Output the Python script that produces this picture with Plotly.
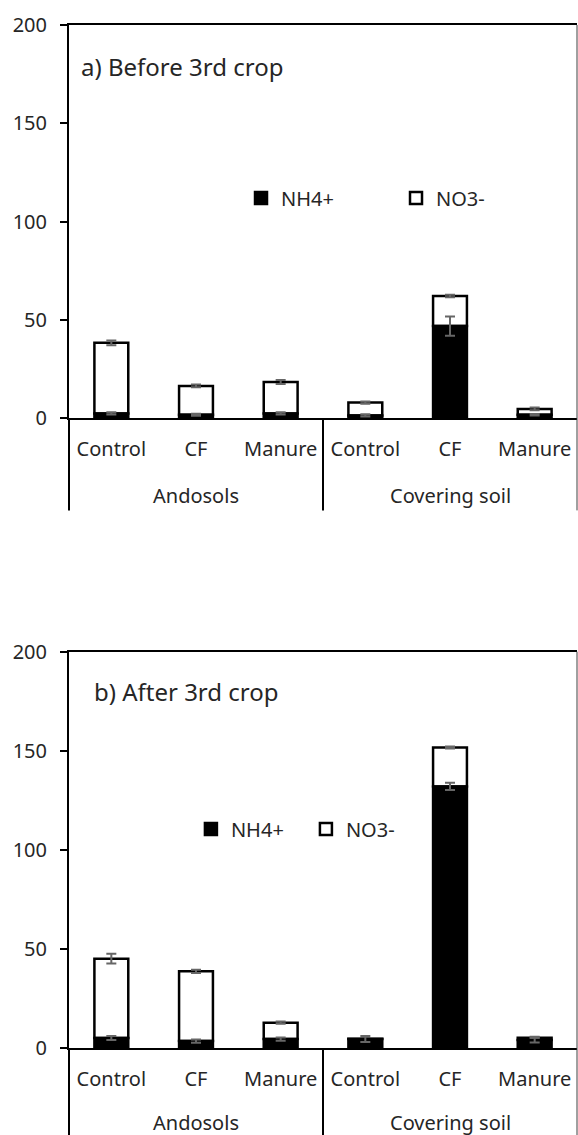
import plotly.graph_objects as go

# ---------------- data ----------------
soils = ["Andosols"] * 3 + ["Covering soil"] * 3
treatments = ["Control", "CF", "Manure"] * 2

nh4_before = [2.5, 1.8, 2.5, 1.5, 46.9, 1.8]
no3_before = [35.9, 14.7, 16.0, 6.5, 15.3, 3.0]
nh4_before_err = [0.6, 0.5, 0.6, 0.6, 4.9, 0.4]
no3_before_err = [1.2, 0.7, 1.0, 0.6, 0.6, 0.7]

nh4_after = [5.0, 3.5, 4.5, 4.5, 132.0, 4.0]
no3_after = [40.1, 35.2, 8.3, 0.2, 19.7, 1.2]
nh4_after_err = [1.0, 0.8, 0.8, 1.5, 1.8, 1.2]
no3_after_err = [2.5, 0.8, 0.6, 0.3, 0.5, 0.5]

panel_titles = ["a) Before 3rd crop", "b) After 3rd crop"]
y_ticks = [0, 50, 100, 150, 200]

FONT = "Noto Sans"
TXT = "#262626"
ERRC = "#666666"

n = len(treatments)
x_pos = list(range(n))

# group structure derived from the soils list
groups = []
for i, s in enumerate(soils):
    if not groups or groups[-1][0] != s:
        groups.append([s, i, i])
    else:
        groups[-1][2] = i

fig = go.Figure()


def add_panel(nh4, no3, nh4_err, no3_err, xa, ya, leg):
    # NO3 sits on top of NH4; NH4 drawn last so its error bar stays visible
    fig.add_trace(go.Bar(
        x=x_pos, y=no3, base=nh4, name="NO3-",
        marker=dict(color="white", line=dict(color="black", width=2.5)),
        error_y=dict(type="data", array=no3_err, visible=True,
                     color=ERRC, thickness=2, width=5),
        xaxis=xa, yaxis=ya, legend=leg,
    ))
    fig.add_trace(go.Bar(
        x=x_pos, y=nh4, name="NH4+",
        marker=dict(color="black", line=dict(color="black", width=2.5)),
        error_y=dict(type="data", array=nh4_err, visible=True,
                     color=ERRC, thickness=2, width=5),
        xaxis=xa, yaxis=ya, legend=leg,
    ))


add_panel(nh4_before, no3_before, nh4_before_err, no3_before_err, "x", "y", "legend")
add_panel(nh4_after, no3_after, nh4_after_err, no3_after_err, "x2", "y2", "legend2")

xaxis_common = dict(
    range=[-0.5, n - 0.5], tickvals=x_pos, ticktext=treatments,
    showline=True, linewidth=2, linecolor="black", mirror=True,
    ticks="", showgrid=False, zeroline=False,
    tickfont=dict(family=FONT, size=20, color=TXT),
    ticklabelstandoff=12,
)
yaxis_common = dict(
    range=[0, 200], tickvals=y_ticks,
    showline=True, linewidth=2, linecolor="black",
    ticks="outside", ticklen=7, tickwidth=2, tickcolor="black",
    showgrid=False, zeroline=False,
    tickfont=dict(family=FONT, size=20, color=TXT),
    ticklabelstandoff=9,
)

legend_common = dict(
    orientation="h", xanchor="left", yanchor="middle",
    font=dict(family=FONT, size=20, color=TXT),
    bgcolor="rgba(0,0,0,0)", traceorder="reversed",
    itemwidth=30,
)

annotations = [
    dict(text=panel_titles[0], xref="paper", yref="paper", x=0.0197, y=0.9599,
         xanchor="left", yanchor="middle", showarrow=False,
         font=dict(family=FONT, size=24, color=TXT)),
    dict(text=panel_titles[1], xref="paper", yref="paper", x=0.0453, y=0.348,
         xanchor="left", yanchor="middle", showarrow=False,
         font=dict(family=FONT, size=24, color=TXT)),
]
shapes = []

for xa, ya, label_y, div_y in (("x", "y", -0.196, -0.234), ("x2", "y2", -0.188, -0.232)):
    for name, i0, i1 in groups:
        annotations.append(dict(
            text=name, xref=xa, yref=ya + " domain", x=(i0 + i1) / 2, y=label_y,
            xanchor="center", yanchor="middle", showarrow=False,
            font=dict(family=FONT, size=20, color=TXT)))
    # dividers at the group boundaries (fractions of the x domain)
    bounds = [g[1] / n for g in groups] + [(groups[-1][2] + 1) / n]
    for b in bounds:
        is_right = b >= 1
        shapes.append(dict(
            type="line", xref=xa + " domain", yref=ya + " domain",
            x0=b, x1=b, y0=div_y, y1=1 if is_right else 0,
            line=dict(color="#404040" if is_right else "black",
                      width=1 if is_right else 2)))

fig.update_layout(
    width=578, height=1135,
    margin=dict(l=69, r=1, t=25, b=87),
    paper_bgcolor="white", plot_bgcolor="white",
    barmode="overlay", bargap=0.6,
    font=dict(family=FONT, color=TXT),
    xaxis=dict(anchor="y", domain=[0, 1], **xaxis_common),
    yaxis=dict(anchor="x", domain=[0.6155, 1.0], **yaxis_common),
    xaxis2=dict(anchor="y2", domain=[0, 1], **xaxis_common),
    yaxis2=dict(anchor="x2", domain=[0.0, 0.3874], **yaxis_common),
    legend=dict(x=0.3386, y=0.8309, entrywidth=110, **legend_common),
    legend2=dict(x=0.24, y=0.2141, entrywidth=70, **legend_common),
    annotations=annotations,
    shapes=shapes,
)

fig.write_html(
    "out.html",
    config={"displayModeBar": False},
    post_script="document.body.style.margin='0';document.body.style.overflow='hidden';",
)
